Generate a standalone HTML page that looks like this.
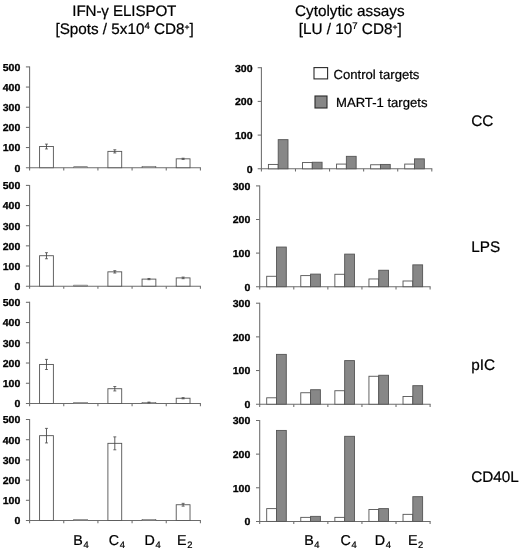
<!DOCTYPE html>
<html lang="en"><head><meta charset="utf-8"><title>Figure</title>
<style>html,body{margin:0;padding:0;background:#fff}body{width:520px;height:551px;overflow:hidden}svg{display:block;will-change:transform}text{text-rendering:geometricPrecision;font-family:"Liberation Sans", Arial, Helvetica, sans-serif;fill:#000}</style></head><body>
<svg width="520" height="551" viewBox="0 0 520 551">
<rect width="520" height="551" fill="#fff"/>
<text x="124.3" y="15.9" font-size="15.2" letter-spacing="-0.12" text-anchor="middle" stroke="#000" stroke-width="0.22">IFN-γ ELISPOT</text>
<text x="124.6" y="33.6" font-size="15.25" text-anchor="middle" stroke="#000" stroke-width="0.22">[Spots / 5x10<tspan font-size="9.6" dy="-4.2">4</tspan><tspan dy="4.2"> CD8</tspan><tspan font-size="8.6" dy="-3.2">+</tspan><tspan dy="3.2">]</tspan></text>
<text x="349.8" y="15.9" font-size="15.3" text-anchor="middle" stroke="#000" stroke-width="0.22">Cytolytic assays</text>
<text x="350.2" y="33.6" font-size="15.3" text-anchor="middle" stroke="#000" stroke-width="0.22">[LU / 10<tspan font-size="9.6" dy="-4.2">7</tspan><tspan dy="4.2"> CD8</tspan><tspan font-size="8.6" dy="-3.2">+</tspan><tspan dy="3.2">]</tspan></text>
<line x1="29.6" y1="66.4" x2="29.6" y2="168.2" stroke="#6c6c6c" stroke-width="1.05"/>
<line x1="25.9" y1="167.7" x2="200.9" y2="167.7" stroke="#6c6c6c" stroke-width="1.05"/>
<text transform="translate(20.3,171.55) scale(1.045,1)" font-size="10.1" font-weight="bold" text-anchor="end" stroke="#000" stroke-width="0.3">0</text>
<line x1="25.9" y1="147.54" x2="29.6" y2="147.54" stroke="#6c6c6c" stroke-width="1.05"/>
<text transform="translate(20.3,151.39) scale(1.045,1)" font-size="10.1" font-weight="bold" text-anchor="end" stroke="#000" stroke-width="0.3">100</text>
<line x1="25.9" y1="127.38" x2="29.6" y2="127.38" stroke="#6c6c6c" stroke-width="1.05"/>
<text transform="translate(20.3,131.23) scale(1.045,1)" font-size="10.1" font-weight="bold" text-anchor="end" stroke="#000" stroke-width="0.3">200</text>
<line x1="25.9" y1="107.22" x2="29.6" y2="107.22" stroke="#6c6c6c" stroke-width="1.05"/>
<text transform="translate(20.3,111.07) scale(1.045,1)" font-size="10.1" font-weight="bold" text-anchor="end" stroke="#000" stroke-width="0.3">300</text>
<line x1="25.9" y1="87.06" x2="29.6" y2="87.06" stroke="#6c6c6c" stroke-width="1.05"/>
<text transform="translate(20.3,90.91) scale(1.045,1)" font-size="10.1" font-weight="bold" text-anchor="end" stroke="#000" stroke-width="0.3">400</text>
<line x1="25.9" y1="66.9" x2="29.6" y2="66.9" stroke="#6c6c6c" stroke-width="1.05"/>
<text transform="translate(20.3,70.75) scale(1.045,1)" font-size="10.1" font-weight="bold" text-anchor="end" stroke="#000" stroke-width="0.3">500</text>
<line x1="29.6" y1="167.7" x2="29.6" y2="170.4" stroke="#6c6c6c" stroke-width="1.05"/>
<line x1="63.76" y1="167.7" x2="63.76" y2="170.4" stroke="#6c6c6c" stroke-width="1.05"/>
<line x1="97.92" y1="167.7" x2="97.92" y2="170.4" stroke="#6c6c6c" stroke-width="1.05"/>
<line x1="132.08" y1="167.7" x2="132.08" y2="170.4" stroke="#6c6c6c" stroke-width="1.05"/>
<line x1="166.24" y1="167.7" x2="166.24" y2="170.4" stroke="#6c6c6c" stroke-width="1.05"/>
<line x1="200.4" y1="167.7" x2="200.4" y2="170.4" stroke="#6c6c6c" stroke-width="1.05"/>
<rect x="39.58" y="146.53" width="13.8" height="21.17" fill="#fff" stroke="#545454" stroke-width="0.9"/>
<line x1="46.48" y1="144.11" x2="46.48" y2="148.95" stroke="#4a4a4a" stroke-width="0.9"/>
<line x1="44.98" y1="144.11" x2="47.98" y2="144.11" stroke="#4a4a4a" stroke-width="0.8"/>
<line x1="44.98" y1="148.95" x2="47.98" y2="148.95" stroke="#4a4a4a" stroke-width="0.8"/>
<rect x="73.74" y="166.7" width="13.8" height="1" fill="#fff" stroke="#545454" stroke-width="0.6"/>
<rect x="107.9" y="151.37" width="13.8" height="16.33" fill="#fff" stroke="#545454" stroke-width="0.9"/>
<line x1="114.8" y1="149.76" x2="114.8" y2="152.98" stroke="#4a4a4a" stroke-width="0.9"/>
<line x1="113.3" y1="149.76" x2="116.3" y2="149.76" stroke="#4a4a4a" stroke-width="0.8"/>
<line x1="113.3" y1="152.98" x2="116.3" y2="152.98" stroke="#4a4a4a" stroke-width="0.8"/>
<rect x="142.06" y="166.29" width="13.8" height="1.41" fill="#fff" stroke="#545454" stroke-width="0.6"/>
<rect x="176.22" y="158.83" width="13.8" height="8.87" fill="#fff" stroke="#545454" stroke-width="0.9"/>
<line x1="183.12" y1="158.22" x2="183.12" y2="159.43" stroke="#4a4a4a" stroke-width="0.9"/>
<line x1="181.62" y1="158.22" x2="184.62" y2="158.22" stroke="#4a4a4a" stroke-width="0.8"/>
<line x1="181.62" y1="159.43" x2="184.62" y2="159.43" stroke="#4a4a4a" stroke-width="0.8"/>
<line x1="29.6" y1="184.9" x2="29.6" y2="286.65" stroke="#6c6c6c" stroke-width="1.05"/>
<line x1="25.9" y1="286.15" x2="200.9" y2="286.15" stroke="#6c6c6c" stroke-width="1.05"/>
<text transform="translate(20.3,290) scale(1.045,1)" font-size="10.1" font-weight="bold" text-anchor="end" stroke="#000" stroke-width="0.3">0</text>
<line x1="25.9" y1="266" x2="29.6" y2="266" stroke="#6c6c6c" stroke-width="1.05"/>
<text transform="translate(20.3,269.85) scale(1.045,1)" font-size="10.1" font-weight="bold" text-anchor="end" stroke="#000" stroke-width="0.3">100</text>
<line x1="25.9" y1="245.85" x2="29.6" y2="245.85" stroke="#6c6c6c" stroke-width="1.05"/>
<text transform="translate(20.3,249.7) scale(1.045,1)" font-size="10.1" font-weight="bold" text-anchor="end" stroke="#000" stroke-width="0.3">200</text>
<line x1="25.9" y1="225.7" x2="29.6" y2="225.7" stroke="#6c6c6c" stroke-width="1.05"/>
<text transform="translate(20.3,229.55) scale(1.045,1)" font-size="10.1" font-weight="bold" text-anchor="end" stroke="#000" stroke-width="0.3">300</text>
<line x1="25.9" y1="205.55" x2="29.6" y2="205.55" stroke="#6c6c6c" stroke-width="1.05"/>
<text transform="translate(20.3,209.4) scale(1.045,1)" font-size="10.1" font-weight="bold" text-anchor="end" stroke="#000" stroke-width="0.3">400</text>
<line x1="25.9" y1="185.4" x2="29.6" y2="185.4" stroke="#6c6c6c" stroke-width="1.05"/>
<text transform="translate(20.3,189.25) scale(1.045,1)" font-size="10.1" font-weight="bold" text-anchor="end" stroke="#000" stroke-width="0.3">500</text>
<line x1="29.6" y1="286.15" x2="29.6" y2="288.85" stroke="#6c6c6c" stroke-width="1.05"/>
<line x1="63.76" y1="286.15" x2="63.76" y2="288.85" stroke="#6c6c6c" stroke-width="1.05"/>
<line x1="97.92" y1="286.15" x2="97.92" y2="288.85" stroke="#6c6c6c" stroke-width="1.05"/>
<line x1="132.08" y1="286.15" x2="132.08" y2="288.85" stroke="#6c6c6c" stroke-width="1.05"/>
<line x1="166.24" y1="286.15" x2="166.24" y2="288.85" stroke="#6c6c6c" stroke-width="1.05"/>
<line x1="200.4" y1="286.15" x2="200.4" y2="288.85" stroke="#6c6c6c" stroke-width="1.05"/>
<rect x="39.58" y="255.72" width="13.8" height="30.43" fill="#fff" stroke="#545454" stroke-width="0.9"/>
<line x1="46.48" y1="252.7" x2="46.48" y2="258.75" stroke="#4a4a4a" stroke-width="0.9"/>
<line x1="44.98" y1="252.7" x2="47.98" y2="252.7" stroke="#4a4a4a" stroke-width="0.8"/>
<line x1="44.98" y1="258.75" x2="47.98" y2="258.75" stroke="#4a4a4a" stroke-width="0.8"/>
<rect x="73.74" y="285.14" width="13.8" height="1.01" fill="#fff" stroke="#545454" stroke-width="0.6"/>
<rect x="107.9" y="271.84" width="13.8" height="14.31" fill="#fff" stroke="#545454" stroke-width="0.9"/>
<line x1="114.8" y1="270.63" x2="114.8" y2="273.05" stroke="#4a4a4a" stroke-width="0.9"/>
<line x1="113.3" y1="270.63" x2="116.3" y2="270.63" stroke="#4a4a4a" stroke-width="0.8"/>
<line x1="113.3" y1="273.05" x2="116.3" y2="273.05" stroke="#4a4a4a" stroke-width="0.8"/>
<rect x="142.06" y="279.1" width="13.8" height="7.05" fill="#fff" stroke="#545454" stroke-width="0.9"/>
<line x1="148.96" y1="278.49" x2="148.96" y2="279.7" stroke="#4a4a4a" stroke-width="0.9"/>
<line x1="147.46" y1="278.49" x2="150.46" y2="278.49" stroke="#4a4a4a" stroke-width="0.8"/>
<line x1="147.46" y1="279.7" x2="150.46" y2="279.7" stroke="#4a4a4a" stroke-width="0.8"/>
<rect x="176.22" y="277.89" width="13.8" height="8.26" fill="#fff" stroke="#545454" stroke-width="0.9"/>
<line x1="183.12" y1="277.08" x2="183.12" y2="278.69" stroke="#4a4a4a" stroke-width="0.9"/>
<line x1="181.62" y1="277.08" x2="184.62" y2="277.08" stroke="#4a4a4a" stroke-width="0.8"/>
<line x1="181.62" y1="278.69" x2="184.62" y2="278.69" stroke="#4a4a4a" stroke-width="0.8"/>
<line x1="29.6" y1="301.8" x2="29.6" y2="404" stroke="#6c6c6c" stroke-width="1.05"/>
<line x1="25.9" y1="403.5" x2="200.9" y2="403.5" stroke="#6c6c6c" stroke-width="1.05"/>
<text transform="translate(20.3,407.35) scale(1.045,1)" font-size="10.1" font-weight="bold" text-anchor="end" stroke="#000" stroke-width="0.3">0</text>
<line x1="25.9" y1="383.26" x2="29.6" y2="383.26" stroke="#6c6c6c" stroke-width="1.05"/>
<text transform="translate(20.3,387.11) scale(1.045,1)" font-size="10.1" font-weight="bold" text-anchor="end" stroke="#000" stroke-width="0.3">100</text>
<line x1="25.9" y1="363.02" x2="29.6" y2="363.02" stroke="#6c6c6c" stroke-width="1.05"/>
<text transform="translate(20.3,366.87) scale(1.045,1)" font-size="10.1" font-weight="bold" text-anchor="end" stroke="#000" stroke-width="0.3">200</text>
<line x1="25.9" y1="342.78" x2="29.6" y2="342.78" stroke="#6c6c6c" stroke-width="1.05"/>
<text transform="translate(20.3,346.63) scale(1.045,1)" font-size="10.1" font-weight="bold" text-anchor="end" stroke="#000" stroke-width="0.3">300</text>
<line x1="25.9" y1="322.54" x2="29.6" y2="322.54" stroke="#6c6c6c" stroke-width="1.05"/>
<text transform="translate(20.3,326.39) scale(1.045,1)" font-size="10.1" font-weight="bold" text-anchor="end" stroke="#000" stroke-width="0.3">400</text>
<line x1="25.9" y1="302.3" x2="29.6" y2="302.3" stroke="#6c6c6c" stroke-width="1.05"/>
<text transform="translate(20.3,306.15) scale(1.045,1)" font-size="10.1" font-weight="bold" text-anchor="end" stroke="#000" stroke-width="0.3">500</text>
<line x1="29.6" y1="403.5" x2="29.6" y2="406.2" stroke="#6c6c6c" stroke-width="1.05"/>
<line x1="63.76" y1="403.5" x2="63.76" y2="406.2" stroke="#6c6c6c" stroke-width="1.05"/>
<line x1="97.92" y1="403.5" x2="97.92" y2="406.2" stroke="#6c6c6c" stroke-width="1.05"/>
<line x1="132.08" y1="403.5" x2="132.08" y2="406.2" stroke="#6c6c6c" stroke-width="1.05"/>
<line x1="166.24" y1="403.5" x2="166.24" y2="406.2" stroke="#6c6c6c" stroke-width="1.05"/>
<line x1="200.4" y1="403.5" x2="200.4" y2="406.2" stroke="#6c6c6c" stroke-width="1.05"/>
<rect x="39.58" y="364.44" width="13.8" height="39.06" fill="#fff" stroke="#545454" stroke-width="0.9"/>
<line x1="46.48" y1="359.38" x2="46.48" y2="369.5" stroke="#4a4a4a" stroke-width="0.9"/>
<line x1="44.98" y1="359.38" x2="47.98" y2="359.38" stroke="#4a4a4a" stroke-width="0.8"/>
<line x1="44.98" y1="369.5" x2="47.98" y2="369.5" stroke="#4a4a4a" stroke-width="0.8"/>
<rect x="73.74" y="402.5" width="13.8" height="1" fill="#fff" stroke="#545454" stroke-width="0.6"/>
<rect x="107.9" y="388.72" width="13.8" height="14.78" fill="#fff" stroke="#545454" stroke-width="0.9"/>
<line x1="114.8" y1="386.5" x2="114.8" y2="390.95" stroke="#4a4a4a" stroke-width="0.9"/>
<line x1="113.3" y1="386.5" x2="116.3" y2="386.5" stroke="#4a4a4a" stroke-width="0.8"/>
<line x1="113.3" y1="390.95" x2="116.3" y2="390.95" stroke="#4a4a4a" stroke-width="0.8"/>
<rect x="142.06" y="402.49" width="13.8" height="1.01" fill="#fff" stroke="#545454" stroke-width="0.6"/>
<line x1="148.96" y1="402.08" x2="148.96" y2="402.89" stroke="#4a4a4a" stroke-width="0.9"/>
<line x1="147.46" y1="402.08" x2="150.46" y2="402.08" stroke="#4a4a4a" stroke-width="0.8"/>
<line x1="147.46" y1="402.89" x2="150.46" y2="402.89" stroke="#4a4a4a" stroke-width="0.8"/>
<rect x="176.22" y="398.24" width="13.8" height="5.26" fill="#fff" stroke="#545454" stroke-width="0.9"/>
<line x1="183.12" y1="397.63" x2="183.12" y2="398.84" stroke="#4a4a4a" stroke-width="0.9"/>
<line x1="181.62" y1="397.63" x2="184.62" y2="397.63" stroke="#4a4a4a" stroke-width="0.8"/>
<line x1="181.62" y1="398.84" x2="184.62" y2="398.84" stroke="#4a4a4a" stroke-width="0.8"/>
<line x1="29.6" y1="419" x2="29.6" y2="521" stroke="#6c6c6c" stroke-width="1.05"/>
<line x1="25.9" y1="520.5" x2="200.9" y2="520.5" stroke="#6c6c6c" stroke-width="1.05"/>
<text transform="translate(20.3,524.35) scale(1.045,1)" font-size="10.1" font-weight="bold" text-anchor="end" stroke="#000" stroke-width="0.3">0</text>
<line x1="25.9" y1="500.3" x2="29.6" y2="500.3" stroke="#6c6c6c" stroke-width="1.05"/>
<text transform="translate(20.3,504.15) scale(1.045,1)" font-size="10.1" font-weight="bold" text-anchor="end" stroke="#000" stroke-width="0.3">100</text>
<line x1="25.9" y1="480.1" x2="29.6" y2="480.1" stroke="#6c6c6c" stroke-width="1.05"/>
<text transform="translate(20.3,483.95) scale(1.045,1)" font-size="10.1" font-weight="bold" text-anchor="end" stroke="#000" stroke-width="0.3">200</text>
<line x1="25.9" y1="459.9" x2="29.6" y2="459.9" stroke="#6c6c6c" stroke-width="1.05"/>
<text transform="translate(20.3,463.75) scale(1.045,1)" font-size="10.1" font-weight="bold" text-anchor="end" stroke="#000" stroke-width="0.3">300</text>
<line x1="25.9" y1="439.7" x2="29.6" y2="439.7" stroke="#6c6c6c" stroke-width="1.05"/>
<text transform="translate(20.3,443.55) scale(1.045,1)" font-size="10.1" font-weight="bold" text-anchor="end" stroke="#000" stroke-width="0.3">400</text>
<line x1="25.9" y1="419.5" x2="29.6" y2="419.5" stroke="#6c6c6c" stroke-width="1.05"/>
<text transform="translate(20.3,423.35) scale(1.045,1)" font-size="10.1" font-weight="bold" text-anchor="end" stroke="#000" stroke-width="0.3">500</text>
<line x1="29.6" y1="520.5" x2="29.6" y2="523.2" stroke="#6c6c6c" stroke-width="1.05"/>
<line x1="63.76" y1="520.5" x2="63.76" y2="523.2" stroke="#6c6c6c" stroke-width="1.05"/>
<line x1="97.92" y1="520.5" x2="97.92" y2="523.2" stroke="#6c6c6c" stroke-width="1.05"/>
<line x1="132.08" y1="520.5" x2="132.08" y2="523.2" stroke="#6c6c6c" stroke-width="1.05"/>
<line x1="166.24" y1="520.5" x2="166.24" y2="523.2" stroke="#6c6c6c" stroke-width="1.05"/>
<line x1="200.4" y1="520.5" x2="200.4" y2="523.2" stroke="#6c6c6c" stroke-width="1.05"/>
<rect x="39.58" y="435.66" width="13.8" height="84.84" fill="#fff" stroke="#545454" stroke-width="0.9"/>
<line x1="46.48" y1="428.39" x2="46.48" y2="442.93" stroke="#4a4a4a" stroke-width="0.9"/>
<line x1="44.98" y1="428.39" x2="47.98" y2="428.39" stroke="#4a4a4a" stroke-width="0.8"/>
<line x1="44.98" y1="442.93" x2="47.98" y2="442.93" stroke="#4a4a4a" stroke-width="0.8"/>
<rect x="73.74" y="519.5" width="13.8" height="1" fill="#fff" stroke="#545454" stroke-width="0.6"/>
<rect x="107.9" y="443.34" width="13.8" height="77.16" fill="#fff" stroke="#545454" stroke-width="0.9"/>
<line x1="114.8" y1="436.87" x2="114.8" y2="449.8" stroke="#4a4a4a" stroke-width="0.9"/>
<line x1="113.3" y1="436.87" x2="116.3" y2="436.87" stroke="#4a4a4a" stroke-width="0.8"/>
<line x1="113.3" y1="449.8" x2="116.3" y2="449.8" stroke="#4a4a4a" stroke-width="0.8"/>
<rect x="142.06" y="519.5" width="13.8" height="1" fill="#fff" stroke="#545454" stroke-width="0.6"/>
<rect x="176.22" y="504.74" width="13.8" height="15.76" fill="#fff" stroke="#545454" stroke-width="0.9"/>
<line x1="183.12" y1="503.33" x2="183.12" y2="506.16" stroke="#4a4a4a" stroke-width="0.9"/>
<line x1="181.62" y1="503.33" x2="184.62" y2="503.33" stroke="#4a4a4a" stroke-width="0.8"/>
<line x1="181.62" y1="506.16" x2="184.62" y2="506.16" stroke="#4a4a4a" stroke-width="0.8"/>
<line x1="261.4" y1="67.2" x2="261.4" y2="169.3" stroke="#6c6c6c" stroke-width="1.05"/>
<line x1="257.7" y1="168.8" x2="432.3" y2="168.8" stroke="#6c6c6c" stroke-width="1.05"/>
<text transform="translate(252.6,172.65) scale(1.045,1)" font-size="10.1" font-weight="bold" text-anchor="end" stroke="#000" stroke-width="0.3">0</text>
<line x1="257.7" y1="135.1" x2="261.4" y2="135.1" stroke="#6c6c6c" stroke-width="1.05"/>
<text transform="translate(252.6,138.95) scale(1.045,1)" font-size="10.1" font-weight="bold" text-anchor="end" stroke="#000" stroke-width="0.3">100</text>
<line x1="257.7" y1="101.4" x2="261.4" y2="101.4" stroke="#6c6c6c" stroke-width="1.05"/>
<text transform="translate(252.6,105.25) scale(1.045,1)" font-size="10.1" font-weight="bold" text-anchor="end" stroke="#000" stroke-width="0.3">200</text>
<line x1="257.7" y1="67.7" x2="261.4" y2="67.7" stroke="#6c6c6c" stroke-width="1.05"/>
<text transform="translate(252.6,71.55) scale(1.045,1)" font-size="10.1" font-weight="bold" text-anchor="end" stroke="#000" stroke-width="0.3">300</text>
<line x1="261.4" y1="168.8" x2="261.4" y2="171.5" stroke="#6c6c6c" stroke-width="1.05"/>
<line x1="295.48" y1="168.8" x2="295.48" y2="171.5" stroke="#6c6c6c" stroke-width="1.05"/>
<line x1="329.56" y1="168.8" x2="329.56" y2="171.5" stroke="#6c6c6c" stroke-width="1.05"/>
<line x1="363.64" y1="168.8" x2="363.64" y2="171.5" stroke="#6c6c6c" stroke-width="1.05"/>
<line x1="397.72" y1="168.8" x2="397.72" y2="171.5" stroke="#6c6c6c" stroke-width="1.05"/>
<line x1="431.8" y1="168.8" x2="431.8" y2="171.5" stroke="#6c6c6c" stroke-width="1.05"/>
<rect x="268.4" y="164.42" width="9.8" height="4.38" fill="#fff" stroke="#545454" stroke-width="0.9"/>
<rect x="278.2" y="139.65" width="9.8" height="29.15" fill="#878787" stroke="#555" stroke-width="0.9"/>
<rect x="302.48" y="162.57" width="9.8" height="6.23" fill="#fff" stroke="#545454" stroke-width="0.9"/>
<rect x="312.28" y="162.23" width="9.8" height="6.57" fill="#878787" stroke="#555" stroke-width="0.9"/>
<rect x="336.56" y="164.08" width="9.8" height="4.72" fill="#fff" stroke="#545454" stroke-width="0.9"/>
<rect x="346.36" y="156.33" width="9.8" height="12.47" fill="#878787" stroke="#555" stroke-width="0.9"/>
<rect x="370.64" y="164.76" width="9.8" height="4.04" fill="#fff" stroke="#545454" stroke-width="0.9"/>
<rect x="380.44" y="164.42" width="9.8" height="4.38" fill="#878787" stroke="#555" stroke-width="0.9"/>
<rect x="404.72" y="164.08" width="9.8" height="4.72" fill="#fff" stroke="#545454" stroke-width="0.9"/>
<rect x="414.52" y="158.86" width="9.8" height="9.94" fill="#878787" stroke="#555" stroke-width="0.9"/>
<line x1="259.7" y1="185.4" x2="259.7" y2="287.2" stroke="#6c6c6c" stroke-width="1.05"/>
<line x1="256" y1="286.7" x2="430.6" y2="286.7" stroke="#6c6c6c" stroke-width="1.05"/>
<text transform="translate(250.3,290.55) scale(1.045,1)" font-size="10.1" font-weight="bold" text-anchor="end" stroke="#000" stroke-width="0.3">0</text>
<line x1="256" y1="253.1" x2="259.7" y2="253.1" stroke="#6c6c6c" stroke-width="1.05"/>
<text transform="translate(250.3,256.95) scale(1.045,1)" font-size="10.1" font-weight="bold" text-anchor="end" stroke="#000" stroke-width="0.3">100</text>
<line x1="256" y1="219.5" x2="259.7" y2="219.5" stroke="#6c6c6c" stroke-width="1.05"/>
<text transform="translate(250.3,223.35) scale(1.045,1)" font-size="10.1" font-weight="bold" text-anchor="end" stroke="#000" stroke-width="0.3">200</text>
<line x1="256" y1="185.9" x2="259.7" y2="185.9" stroke="#6c6c6c" stroke-width="1.05"/>
<text transform="translate(250.3,189.75) scale(1.045,1)" font-size="10.1" font-weight="bold" text-anchor="end" stroke="#000" stroke-width="0.3">300</text>
<line x1="259.7" y1="286.7" x2="259.7" y2="289.4" stroke="#6c6c6c" stroke-width="1.05"/>
<line x1="293.78" y1="286.7" x2="293.78" y2="289.4" stroke="#6c6c6c" stroke-width="1.05"/>
<line x1="327.86" y1="286.7" x2="327.86" y2="289.4" stroke="#6c6c6c" stroke-width="1.05"/>
<line x1="361.94" y1="286.7" x2="361.94" y2="289.4" stroke="#6c6c6c" stroke-width="1.05"/>
<line x1="396.02" y1="286.7" x2="396.02" y2="289.4" stroke="#6c6c6c" stroke-width="1.05"/>
<line x1="430.1" y1="286.7" x2="430.1" y2="289.4" stroke="#6c6c6c" stroke-width="1.05"/>
<rect x="266.7" y="276.28" width="9.8" height="10.42" fill="#fff" stroke="#545454" stroke-width="0.9"/>
<rect x="276.5" y="247.05" width="9.8" height="39.65" fill="#878787" stroke="#555" stroke-width="0.9"/>
<rect x="300.78" y="275.61" width="9.8" height="11.09" fill="#fff" stroke="#545454" stroke-width="0.9"/>
<rect x="310.58" y="274.1" width="9.8" height="12.6" fill="#878787" stroke="#555" stroke-width="0.9"/>
<rect x="334.86" y="274.27" width="9.8" height="12.43" fill="#fff" stroke="#545454" stroke-width="0.9"/>
<rect x="344.66" y="254.11" width="9.8" height="32.59" fill="#878787" stroke="#555" stroke-width="0.9"/>
<rect x="368.94" y="278.97" width="9.8" height="7.73" fill="#fff" stroke="#545454" stroke-width="0.9"/>
<rect x="378.74" y="270.24" width="9.8" height="16.46" fill="#878787" stroke="#555" stroke-width="0.9"/>
<rect x="403.02" y="280.99" width="9.8" height="5.71" fill="#fff" stroke="#545454" stroke-width="0.9"/>
<rect x="412.82" y="264.86" width="9.8" height="21.84" fill="#878787" stroke="#555" stroke-width="0.9"/>
<line x1="259.7" y1="302.7" x2="259.7" y2="404.7" stroke="#6c6c6c" stroke-width="1.05"/>
<line x1="256" y1="404.2" x2="430.6" y2="404.2" stroke="#6c6c6c" stroke-width="1.05"/>
<text transform="translate(250.3,408.05) scale(1.045,1)" font-size="10.1" font-weight="bold" text-anchor="end" stroke="#000" stroke-width="0.3">0</text>
<line x1="256" y1="370.53" x2="259.7" y2="370.53" stroke="#6c6c6c" stroke-width="1.05"/>
<text transform="translate(250.3,374.38) scale(1.045,1)" font-size="10.1" font-weight="bold" text-anchor="end" stroke="#000" stroke-width="0.3">100</text>
<line x1="256" y1="336.87" x2="259.7" y2="336.87" stroke="#6c6c6c" stroke-width="1.05"/>
<text transform="translate(250.3,340.72) scale(1.045,1)" font-size="10.1" font-weight="bold" text-anchor="end" stroke="#000" stroke-width="0.3">200</text>
<line x1="256" y1="303.2" x2="259.7" y2="303.2" stroke="#6c6c6c" stroke-width="1.05"/>
<text transform="translate(250.3,307.05) scale(1.045,1)" font-size="10.1" font-weight="bold" text-anchor="end" stroke="#000" stroke-width="0.3">300</text>
<line x1="259.7" y1="404.2" x2="259.7" y2="406.9" stroke="#6c6c6c" stroke-width="1.05"/>
<line x1="293.78" y1="404.2" x2="293.78" y2="406.9" stroke="#6c6c6c" stroke-width="1.05"/>
<line x1="327.86" y1="404.2" x2="327.86" y2="406.9" stroke="#6c6c6c" stroke-width="1.05"/>
<line x1="361.94" y1="404.2" x2="361.94" y2="406.9" stroke="#6c6c6c" stroke-width="1.05"/>
<line x1="396.02" y1="404.2" x2="396.02" y2="406.9" stroke="#6c6c6c" stroke-width="1.05"/>
<line x1="430.1" y1="404.2" x2="430.1" y2="406.9" stroke="#6c6c6c" stroke-width="1.05"/>
<rect x="266.7" y="397.8" width="9.8" height="6.4" fill="#fff" stroke="#545454" stroke-width="0.9"/>
<rect x="276.5" y="354.37" width="9.8" height="49.83" fill="#878787" stroke="#555" stroke-width="0.9"/>
<rect x="300.78" y="392.75" width="9.8" height="11.45" fill="#fff" stroke="#545454" stroke-width="0.9"/>
<rect x="310.58" y="389.72" width="9.8" height="14.48" fill="#878787" stroke="#555" stroke-width="0.9"/>
<rect x="334.86" y="390.73" width="9.8" height="13.47" fill="#fff" stroke="#545454" stroke-width="0.9"/>
<rect x="344.66" y="360.6" width="9.8" height="43.6" fill="#878787" stroke="#555" stroke-width="0.9"/>
<rect x="368.94" y="376.26" width="9.8" height="27.94" fill="#fff" stroke="#545454" stroke-width="0.9"/>
<rect x="378.74" y="375.25" width="9.8" height="28.95" fill="#878787" stroke="#555" stroke-width="0.9"/>
<rect x="403.02" y="396.46" width="9.8" height="7.74" fill="#fff" stroke="#545454" stroke-width="0.9"/>
<rect x="412.82" y="385.68" width="9.8" height="18.52" fill="#878787" stroke="#555" stroke-width="0.9"/>
<line x1="259.7" y1="420" x2="259.7" y2="521.9" stroke="#6c6c6c" stroke-width="1.05"/>
<line x1="256" y1="521.4" x2="430.6" y2="521.4" stroke="#6c6c6c" stroke-width="1.05"/>
<text transform="translate(250.3,525.25) scale(1.045,1)" font-size="10.1" font-weight="bold" text-anchor="end" stroke="#000" stroke-width="0.3">0</text>
<line x1="256" y1="487.77" x2="259.7" y2="487.77" stroke="#6c6c6c" stroke-width="1.05"/>
<text transform="translate(250.3,491.62) scale(1.045,1)" font-size="10.1" font-weight="bold" text-anchor="end" stroke="#000" stroke-width="0.3">100</text>
<line x1="256" y1="454.13" x2="259.7" y2="454.13" stroke="#6c6c6c" stroke-width="1.05"/>
<text transform="translate(250.3,457.98) scale(1.045,1)" font-size="10.1" font-weight="bold" text-anchor="end" stroke="#000" stroke-width="0.3">200</text>
<line x1="256" y1="420.5" x2="259.7" y2="420.5" stroke="#6c6c6c" stroke-width="1.05"/>
<text transform="translate(250.3,424.35) scale(1.045,1)" font-size="10.1" font-weight="bold" text-anchor="end" stroke="#000" stroke-width="0.3">300</text>
<line x1="259.7" y1="521.4" x2="259.7" y2="524.1" stroke="#6c6c6c" stroke-width="1.05"/>
<line x1="293.78" y1="521.4" x2="293.78" y2="524.1" stroke="#6c6c6c" stroke-width="1.05"/>
<line x1="327.86" y1="521.4" x2="327.86" y2="524.1" stroke="#6c6c6c" stroke-width="1.05"/>
<line x1="361.94" y1="521.4" x2="361.94" y2="524.1" stroke="#6c6c6c" stroke-width="1.05"/>
<line x1="396.02" y1="521.4" x2="396.02" y2="524.1" stroke="#6c6c6c" stroke-width="1.05"/>
<line x1="430.1" y1="521.4" x2="430.1" y2="524.1" stroke="#6c6c6c" stroke-width="1.05"/>
<rect x="266.7" y="508.62" width="9.8" height="12.78" fill="#fff" stroke="#545454" stroke-width="0.9"/>
<rect x="276.5" y="430.42" width="9.8" height="90.98" fill="#878787" stroke="#555" stroke-width="0.9"/>
<rect x="300.78" y="517.36" width="9.8" height="4.04" fill="#fff" stroke="#545454" stroke-width="0.9"/>
<rect x="310.58" y="516.36" width="9.8" height="5.04" fill="#878787" stroke="#555" stroke-width="0.9"/>
<rect x="334.86" y="517.36" width="9.8" height="4.04" fill="#fff" stroke="#545454" stroke-width="0.9"/>
<rect x="344.66" y="436.31" width="9.8" height="85.09" fill="#878787" stroke="#555" stroke-width="0.9"/>
<rect x="368.94" y="509.46" width="9.8" height="11.94" fill="#fff" stroke="#545454" stroke-width="0.9"/>
<rect x="378.74" y="508.62" width="9.8" height="12.78" fill="#878787" stroke="#555" stroke-width="0.9"/>
<rect x="403.02" y="514.34" width="9.8" height="7.06" fill="#fff" stroke="#545454" stroke-width="0.9"/>
<rect x="412.82" y="496.68" width="9.8" height="24.72" fill="#878787" stroke="#555" stroke-width="0.9"/>
<rect x="314" y="67.6" width="13.6" height="11.3" fill="#fff" stroke="#2a2a2a" stroke-width="1.1"/>
<text x="333.5" y="78.6" font-size="13.1" stroke="#000" stroke-width="0.22">Control targets</text>
<rect x="315" y="96" width="12" height="12" fill="#878787" stroke="#2a2a2a" stroke-width="1.1"/>
<text x="336" y="107.3" font-size="13.1" stroke="#000" stroke-width="0.22">MART-1 targets</text>
<text x="471.2" y="126" font-size="15.3" stroke="#000" stroke-width="0.22">CC</text>
<text x="471.3" y="251.8" font-size="15.3" stroke="#000" stroke-width="0.22">LPS</text>
<text x="471.2" y="370" font-size="15.3" stroke="#000" stroke-width="0.22">pIC</text>
<text x="471.2" y="482.2" font-size="15.3" stroke="#000" stroke-width="0.22">CD40L</text>
<text x="73.3" y="544.7" font-size="14.3" stroke="#000" stroke-width="0.22">B<tspan font-size="9.4" dx="0.6" dy="3.5">4</tspan></text>
<text x="108.8" y="544.7" font-size="14.3" stroke="#000" stroke-width="0.22">C<tspan font-size="9.4" dx="0.6" dy="3.5">4</tspan></text>
<text x="144.5" y="544.7" font-size="14.3" stroke="#000" stroke-width="0.22">D<tspan font-size="9.4" dx="0.6" dy="3.5">4</tspan></text>
<text x="177.1" y="544.7" font-size="14.3" stroke="#000" stroke-width="0.22">E<tspan font-size="9.4" dx="0.6" dy="3.5">2</tspan></text>
<text x="304.2" y="544.7" font-size="14.3" stroke="#000" stroke-width="0.22">B<tspan font-size="9.4" dx="0.6" dy="3.5">4</tspan></text>
<text x="340.5" y="544.7" font-size="14.3" stroke="#000" stroke-width="0.22">C<tspan font-size="9.4" dx="0.6" dy="3.5">4</tspan></text>
<text x="374.8" y="544.7" font-size="14.3" stroke="#000" stroke-width="0.22">D<tspan font-size="9.4" dx="0.6" dy="3.5">4</tspan></text>
<text x="407.9" y="544.7" font-size="14.3" stroke="#000" stroke-width="0.22">E<tspan font-size="9.4" dx="0.6" dy="3.5">2</tspan></text>
</svg></body></html>
